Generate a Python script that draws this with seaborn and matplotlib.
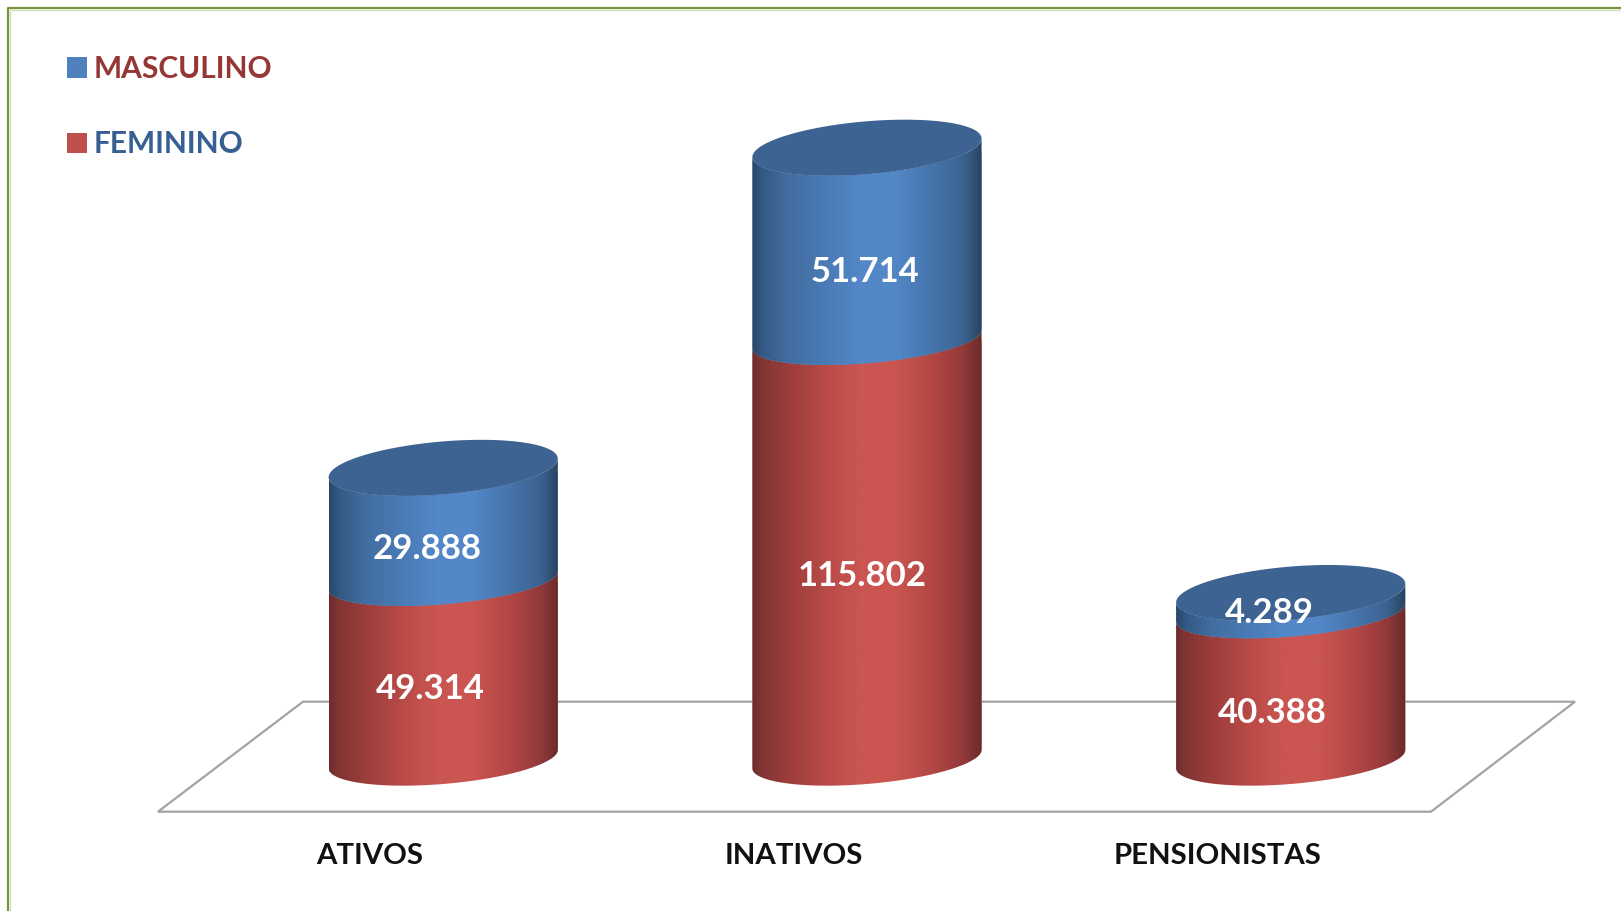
import numpy as np
import pandas as pd
import matplotlib
matplotlib.use("Agg")
import matplotlib.pyplot as plt
import seaborn as sns
from matplotlib.colors import LinearSegmentedColormap
from matplotlib.lines import Line2D
from matplotlib.patches import Patch, PathPatch, Polygon
from matplotlib.path import Path

# ---- data -------------------------------------------------------------
categorias = ["ATIVOS", "INATIVOS", "PENSIONISTAS"]
feminino = [49314, 115802, 40388]
masculino = [29888, 51714, 4289]
legend_labels = ["MASCULINO", "FEMININO"]

# ---- style / layout ----------------------------------------------------
W, H = 1621, 911
C_BLUE, C_RED = "#4f81bd", "#c0504d"
C_CAP = "#3c6391"
FONT = "Lato"
label_dx = [[-13, -5, -18], [-16, -2, -21]]      # px offsets: feminino, masculino
label_dy = [[19, 27, 27], [23, 27, 8]]

sns.set_theme(style="white")
plt.rcParams["font.family"] = [FONT, "DejaVu Sans"]

fig = plt.figure(figsize=(W / 100, H / 100), dpi=100, facecolor="white")
AX_BOTTOM_PX = 811.7
ax = fig.add_axes([0, 1 - AX_BOTTOM_PX / H, 1, AX_BOTTOM_PX / H])
ax.patch.set_alpha(0)

totais = [f + m for f, m in zip(feminino, masculino)]
df = pd.DataFrame({"cat": categorias, "fem": feminino, "tot": totais})
BAR_W = 0.541
sns.barplot(data=df, x="cat", y="tot", color=C_BLUE, width=BAR_W, saturation=1,
            errorbar=None, ax=ax, zorder=3)
n_blue = len(ax.patches)
sns.barplot(data=df, x="cat", y="fem", color=C_RED, width=BAR_W, saturation=1,
            errorbar=None, ax=ax, zorder=2)
blue_bars = ax.patches[:n_blue]
red_bars = ax.patches[n_blue:]

# axis limits: category spacing and vertical scale in pixels
PX_PER_CAT = 423.75
CENTER0_PX = 443.2
BASE_PX = 759.0
PX_PER_UNIT = 3.625e-3
xlim = ((0 - CENTER0_PX) / PX_PER_CAT, (W - CENTER0_PX) / PX_PER_CAT)
ylim = ((BASE_PX - AX_BOTTOM_PX) / PX_PER_UNIT, BASE_PX / PX_PER_UNIT)
ax.set_xlim(*xlim)
ax.set_ylim(*ylim)

def xd(px):
    return (np.asarray(px) - CENTER0_PX) / PX_PER_CAT

def yd(py):
    return (BASE_PX - np.asarray(py)) / PX_PER_UNIT

# floor of the 3D chart
FLOOR = [(158, 811.7), (303, 701.7), (1575, 701.7), (1431, 811.7)]
ax.add_patch(Polygon([(xd(a), yd(b)) for a, b in FLOOR], closed=True, fc="white",
                     ec="#a3a3a3", lw=1.6, zorder=1, clip_on=False))

# cylinders
SKEW, CAP_B, BASE_B, JOIN_B, CAP_LIFT = 9.3, 26.5, 25.0, 24.0, 4.0

def arc(cx, cy_v, hw, t0, t1, b, lift=0.0):
    t = np.linspace(t0, t1, 80)
    x = cx + hw * np.cos(t)
    py = (BASE_PX - cy_v * PX_PER_UNIT) - lift - SKEW * np.cos(t) + b * np.sin(t)
    return np.column_stack([x, yd(py)])

def closed(pts):
    return Path(np.vstack([pts, pts[0]]))

def gradient(stops):
    return LinearSegmentedColormap.from_list("g", stops)

red_stops = [(0, "#6a2c2b"), (.03, "#7d3432"), (.15, "#9a3d3b"), (.33, "#bb4b48"),
             (.47, "#ca5551"), (.62, "#ca5551"), (.78, "#b44845"), (.92, "#93393a"), (1, "#682b2a")]
blue_stops = [(0, "#294666"), (.04, "#335883"), (.15, "#416d9f"), (.33, "#4b7cb7"),
              (.47, "#5387c8"), (.62, "#5387c8"), (.78, "#4675ad"), (.92, "#3c6390"), (1, "#274362")]
cmap_red, cmap_blue = gradient(red_stops), gradient(blue_stops)
grad = np.linspace(0, 1, 256)[None, :]

for i in range(len(categorias)):
    bar_r, bar_b = red_bars[i], blue_bars[i]
    x0 = bar_r.get_x()
    w = bar_r.get_width()
    cx = x0 + w / 2
    hw = w / 2
    vf, vt = bar_r.get_height(), bar_b.get_height()

    # lower segment: front arc at the base, back up to the top of the segment
    lower = closed(np.vstack([arc(cx, 0, hw, 0, np.pi, BASE_B),
                              arc(cx, vf, hw, np.pi, 0, JOIN_B)]))
    upper = closed(np.vstack([arc(cx, vf, hw, 0, np.pi, JOIN_B),
                              arc(cx, vt, hw, np.pi, 0, CAP_B, lift=CAP_LIFT)]))
    for path, cm, z, bar in ((lower, cmap_red, 2.5, bar_r), (upper, cmap_blue, 3.5, bar_b)):
        clip = PathPatch(path, transform=ax.transData, fc="none", ec="none")
        ax.add_patch(clip)
        bar.set_clip_path(clip)
        im = ax.imshow(grad, extent=[x0, x0 + w, yd(811), yd(0)], aspect="auto",
                       cmap=cm, zorder=z, interpolation="bilinear")
        im.set_clip_path(clip)
    # top cap
    cap = closed(arc(cx, vt, hw, 0, 2 * np.pi, CAP_B, lift=CAP_LIFT))
    ax.add_patch(PathPatch(cap, fc=C_CAP, ec="none", zorder=4))

# value labels, from the named arrays
for i, (fem, mas) in enumerate(zip(feminino, masculino)):
    cx = red_bars[i].get_x() + red_bars[i].get_width() / 2
    for j, (base, val) in enumerate(((0, fem), (fem, mas))):
        txt = f"{val:,}".replace(",", ".")
        ax.annotate(txt, xy=(cx, base + val / 2),
                    xytext=(label_dx[j][i], -label_dy[j][i]), textcoords="offset pixels",
                    ha="center", va="center", color="white", fontsize=25, fontweight="bold",
                    family=FONT, zorder=6)

ax.set_xlim(*xlim)
ax.set_ylim(*ylim)

# axis furniture
sns.despine(ax=ax, left=True, bottom=True, top=True, right=True)
LABEL_SHIFT = 73.5 / PX_PER_CAT
ax.set_xticks(np.arange(len(categorias)) - LABEL_SHIFT)
ax.set_xticklabels(categorias, fontsize=21.2, fontweight="bold", color="#111111", family=FONT)
ax.tick_params(axis="x", length=0, pad=22.5)
ax.set_yticks([])
ax.set_xlabel("")
ax.set_ylabel("")

# legend
handles = [Patch(fc=C_BLUE, ec="none"), Patch(fc=C_RED, ec="none")]
leg = ax.legend(handles, legend_labels, loc="upper left",
                bbox_to_anchor=(67 / W, (AX_BOTTOM_PX - 55) / AX_BOTTOM_PX),
                bbox_transform=ax.transAxes, frameon=False, borderaxespad=0, borderpad=0,
                prop={"family": FONT, "weight": "bold", "size": 21.5},
                handlelength=0.67, handleheight=0.67, handletextpad=0.22, labelspacing=1.58,
                labelcolor=["#953735", "#376092"])
leg.set_zorder(7)

# green frame, open at the right and bottom
fig.add_artist(Line2D([8.2 / W, 8.2 / W, 1], [0, 1 - 8.2 / H, 1 - 8.2 / H],
                      color="#76933c", lw=1.6))
fig.add_artist(Line2D([10.2 / W, 10.2 / W, 1], [0, 1 - 10.2 / H, 1 - 10.2 / H],
                      color="#d3e0b6", lw=1))

fig.savefig("out.png", dpi=100, facecolor="white")
